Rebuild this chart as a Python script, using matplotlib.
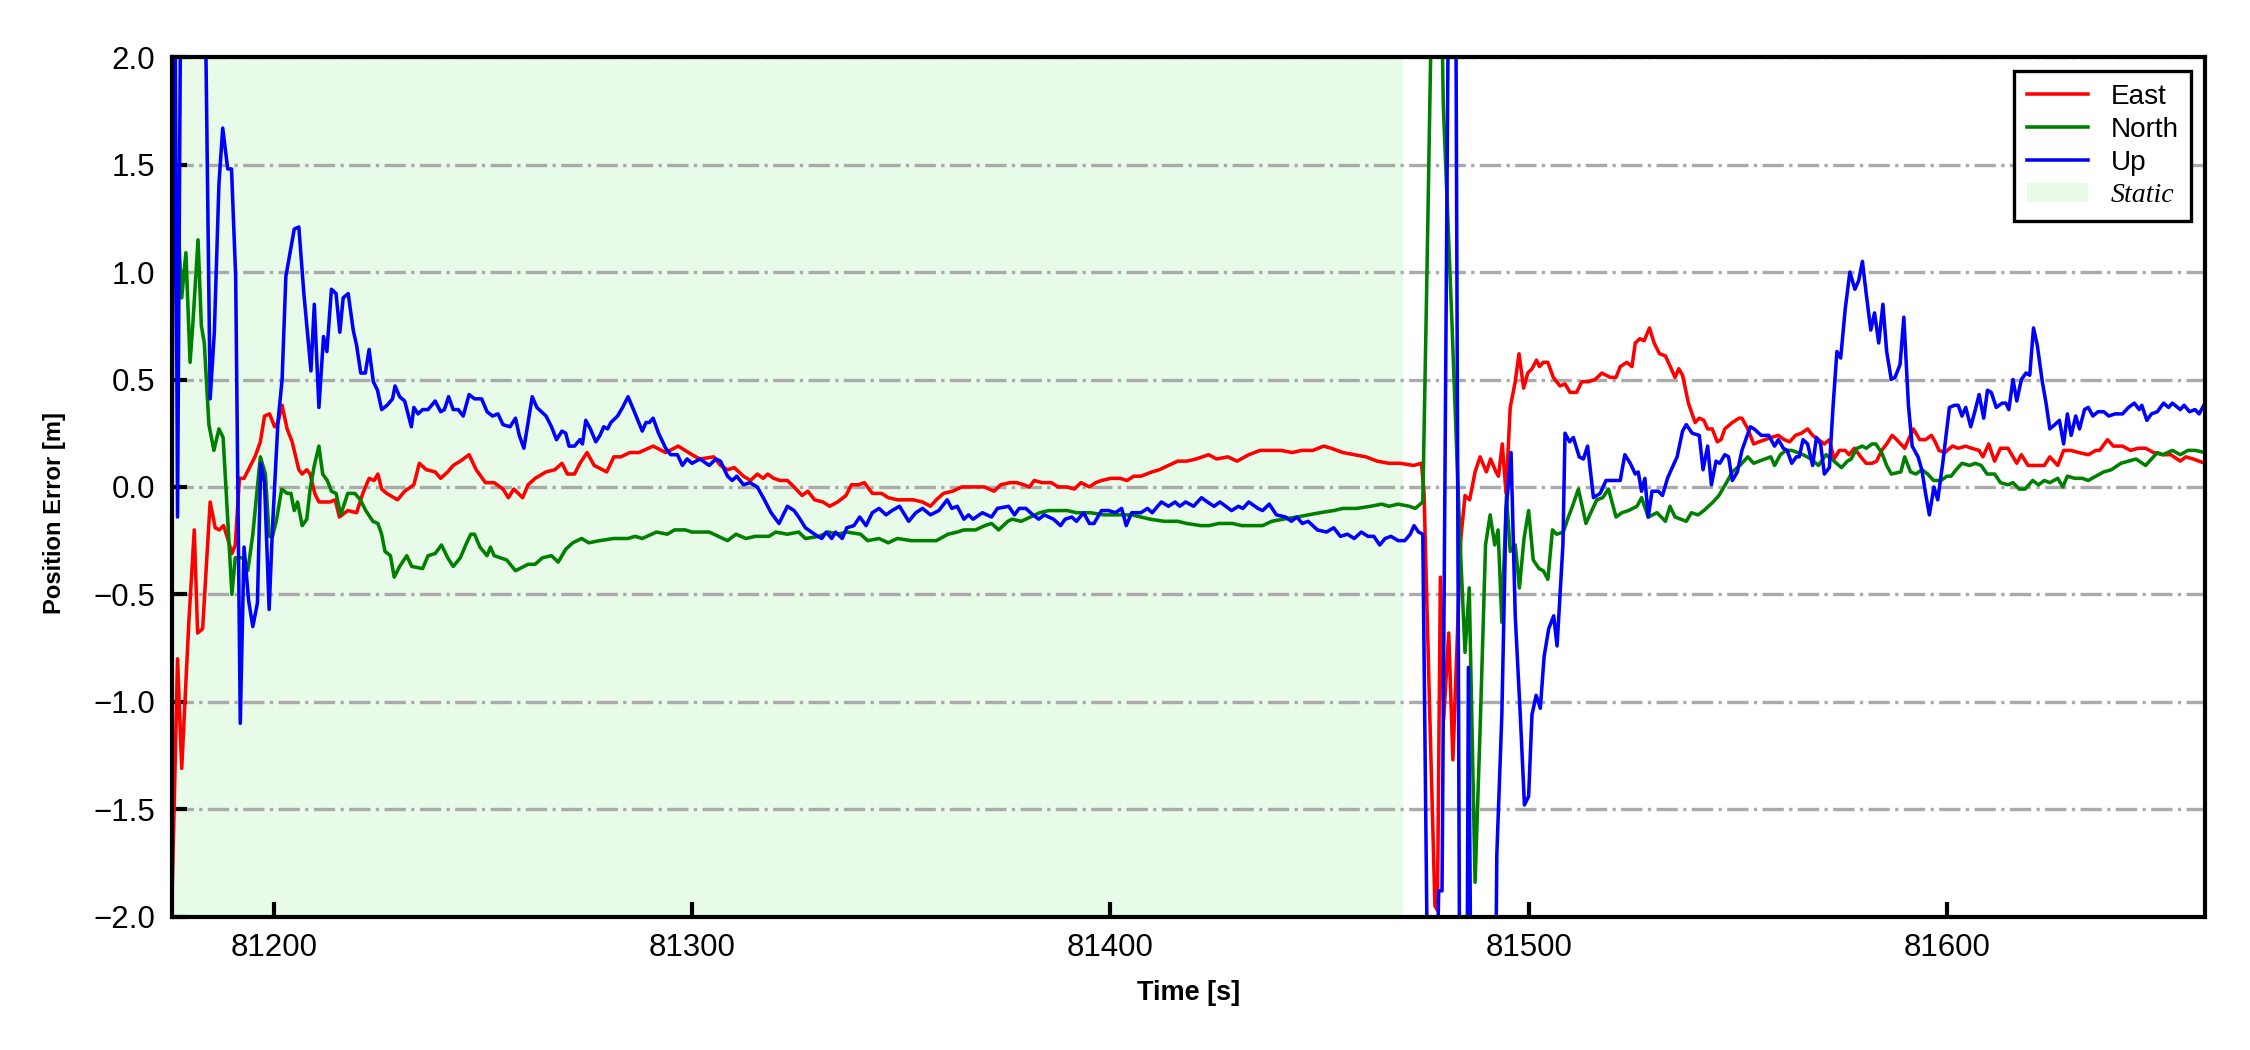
import matplotlib
matplotlib.use('Agg')
import matplotlib.pyplot as plt

# values (time [s], error [m])
east_time = [
    81175.6, 81177.0, 81178.0, 81179.7, 81181.0, 81181.8, 81183.0, 81184.8, 81186.0, 81187.0,
    81188.0, 81189.0, 81190.0, 81190.8, 81191.8, 81192.9, 81195.5, 81196.8, 81197.8, 81199.0,
    81200.2, 81201.0, 81202.0, 81203.2, 81204.4, 81206.0, 81206.8, 81207.9, 81208.7, 81209.8,
    81210.8, 81213.4, 81214.7, 81215.7, 81217.7, 81219.8, 81221.3, 81222.8, 81224.0, 81224.9,
    81225.8, 81227.0, 81229.6, 81231.3, 81233.5, 81234.8, 81236.5, 81238.6, 81239.9, 81241.6,
    81242.9, 81244.6, 81246.7, 81248.4, 81250.6, 81252.7, 81254.8, 81256.1, 81257.4, 81259.5,
    81260.8, 81262.5, 81265.1, 81267.2, 81268.9, 81270.2, 81271.9, 81273.2, 81274.9, 81276.6,
    81279.6, 81281.3, 81283.0, 81285.1, 81287.3, 81290.7, 81293.7, 81296.7, 81300.0, 81301.9,
    81305.2, 81306.8, 81308.5, 81310.1, 81312.3, 81314.0, 81315.6, 81317.0, 81318.1, 81319.5,
    81321.1, 81322.8, 81324.4, 81326.3, 81327.7, 81329.3, 81331.3, 81332.9, 81334.8, 81336.8,
    81338.1, 81339.8, 81341.2, 81343.1, 81345.3, 81346.9, 81349.1, 81352.9, 81355.1, 81357.0,
    81358.4, 81360.1, 81362.3, 81364.5, 81369.9, 81372.2, 81373.8, 81376.0, 81377.6, 81379.3,
    81380.7, 81381.8, 81383.7, 81385.9, 81387.5, 81389.7, 81391.4, 81393.0, 81395.0, 81396.5,
    81397.9, 81400.1, 81402.3, 81404.0, 81405.6, 81407.3, 81410.0, 81411.7, 81413.9, 81416.1,
    81418.3, 81420.5, 81423.5, 81425.4, 81428.1, 81430.3, 81433.1, 81435.8, 81438.0, 81440.8,
    81443.5, 81445.7, 81448.4, 81451.0, 81452.8, 81455.6, 81458.3, 81461.1, 81463.8, 81466.6,
    81469.3, 81472.5, 81474.4, 81475.0, 81476.1, 81477.6, 81478.2, 81478.9, 81479.7, 81480.9,
    81481.9, 81483.8, 81484.8, 81485.9, 81487.2, 81488.4, 81489.9, 81490.9, 81492.2, 81492.8,
    81493.7, 81494.6, 81495.6, 81496.8, 81497.7, 81498.8, 81499.8, 81500.8, 81501.9, 81502.6,
    81503.5, 81504.6, 81505.9, 81507.5, 81508.7, 81509.9, 81511.5, 81512.7, 81514.3, 81515.9,
    81517.5, 81519.5, 81520.9, 81521.9, 81523.5, 81524.7, 81525.5, 81526.6, 81527.6, 81528.9,
    81530.0, 81531.3, 81532.7, 81534.1, 81535.0, 81535.9, 81536.8, 81538.2, 81539.8, 81540.8,
    81541.9, 81542.8, 81543.9, 81545.1, 81546.0, 81546.9, 81548.7, 81550.3, 81551.0, 81552.4,
    81553.8, 81555.1, 81556.5, 81557.9, 81559.7, 81561.1, 81562.4, 81563.8, 81565.2, 81566.7,
    81567.9, 81569.3, 81570.7, 81571.9, 81573.0, 81574.3, 81575.7, 81576.6, 81577.9, 81579.4,
    81580.7, 81582.1, 81583.2, 81584.4, 81585.6, 81586.9, 81588.0, 81589.9, 81590.8, 81592.0,
    81593.5, 81594.9, 81596.3, 81597.2, 81598.1, 81599.5, 81601.3, 81602.7, 81604.5, 81605.9,
    81607.7, 81608.6, 81610.0, 81611.4, 81612.8, 81614.6, 81616.7, 81617.8, 81619.4, 81621.0,
    81623.3, 81624.6, 81626.5, 81627.9, 81629.7, 81631.5, 81633.8, 81635.6, 81636.5, 81638.4,
    81639.8, 81642.0, 81643.9, 81645.7, 81647.5, 81649.4, 81651.6, 81653.5, 81655.8, 81657.1,
    81658.9, 81661.7,
]
east = [
    -1.99, -0.80, -1.31, -0.63, -0.20, -0.68, -0.66, -0.07, -0.19, -0.20,
    -0.18, -0.24, -0.31, -0.27, 0.04, 0.04, 0.14, 0.21, 0.33, 0.34,
    0.28, 0.30, 0.38, 0.27, 0.21, 0.08, 0.06, 0.08, 0.06, -0.03,
    -0.07, -0.07, -0.06, -0.14, -0.11, -0.12, -0.03, 0.04, 0.03, 0.06,
    -0.01, -0.03, -0.06, -0.02, 0.01, 0.11, 0.08, 0.07, 0.04, 0.07,
    0.10, 0.12, 0.15, 0.08, 0.02, 0.02, -0.01, -0.05, -0.01, -0.05,
    0.01, 0.04, 0.07, 0.08, 0.11, 0.06, 0.06, 0.11, 0.16, 0.10,
    0.07, 0.14, 0.14, 0.16, 0.16, 0.19, 0.16, 0.19, 0.15, 0.13,
    0.14, 0.10, 0.08, 0.09, 0.05, 0.03, 0.06, 0.04, 0.06, 0.04,
    0.03, 0.03, 0.00, -0.04, -0.02, -0.06, -0.07, -0.09, -0.07, -0.04,
    0.01, 0.01, 0.02, -0.03, -0.03, -0.05, -0.06, -0.06, -0.07, -0.09,
    -0.06, -0.03, -0.02, 0.00, 0.00, -0.02, 0.01, 0.02, 0.02, 0.01,
    0.00, 0.03, 0.02, 0.02, 0.00, 0.00, -0.01, 0.02, 0.00, 0.02,
    0.03, 0.04, 0.04, 0.03, 0.05, 0.05, 0.07, 0.08, 0.10, 0.12,
    0.12, 0.13, 0.15, 0.13, 0.14, 0.12, 0.15, 0.17, 0.17, 0.17,
    0.16, 0.17, 0.17, 0.19, 0.18, 0.16, 0.15, 0.14, 0.12, 0.11,
    0.11, 0.10, 0.11, -0.03, -0.86, -1.95, -1.97, -0.42, -1.08, -0.68,
    -1.27, -0.24, -0.04, -0.06, 0.07, 0.14, 0.07, 0.13, 0.07, 0.05,
    0.20, -0.03, 0.37, 0.49, 0.62, 0.46, 0.53, 0.55, 0.59, 0.56,
    0.58, 0.58, 0.51, 0.47, 0.48, 0.44, 0.44, 0.49, 0.49, 0.50,
    0.53, 0.51, 0.51, 0.56, 0.58, 0.56, 0.67, 0.69, 0.68, 0.74,
    0.67, 0.62, 0.61, 0.55, 0.51, 0.55, 0.52, 0.39, 0.30, 0.32,
    0.31, 0.27, 0.27, 0.21, 0.22, 0.27, 0.30, 0.32, 0.32, 0.27,
    0.20, 0.21, 0.22, 0.23, 0.24, 0.22, 0.21, 0.24, 0.25, 0.27,
    0.24, 0.22, 0.20, 0.22, 0.13, 0.17, 0.17, 0.15, 0.18, 0.14,
    0.11, 0.11, 0.12, 0.17, 0.20, 0.24, 0.22, 0.18, 0.22, 0.27,
    0.22, 0.22, 0.24, 0.21, 0.17, 0.16, 0.19, 0.18, 0.19, 0.18,
    0.17, 0.14, 0.20, 0.12, 0.18, 0.18, 0.11, 0.15, 0.10, 0.10,
    0.10, 0.14, 0.10, 0.17, 0.17, 0.16, 0.15, 0.17, 0.17, 0.22,
    0.19, 0.19, 0.17, 0.18, 0.18, 0.16, 0.15, 0.15, 0.12, 0.14,
    0.13, 0.11,
]

north_time = [
    81175.6, 81176.6, 81178.0, 81179.0, 81180.0, 81180.7, 81181.9, 81182.7, 81183.4, 81184.5,
    81185.7, 81186.9, 81187.9, 81190.0, 81190.8, 81192.9, 81193.8, 81195.0, 81196.8, 81198.0,
    81198.9, 81199.7, 81200.6, 81201.9, 81203.2, 81204.1, 81204.9, 81205.7, 81206.8, 81207.9,
    81208.7, 81209.7, 81210.8, 81211.7, 81212.8, 81213.8, 81214.9, 81216.0, 81217.7, 81219.4,
    81220.7, 81222.0, 81223.7, 81224.9, 81225.8, 81226.6, 81227.9, 81228.8, 81230.1, 81231.8,
    81233.0, 81235.6, 81236.9, 81238.6, 81240.1, 81241.6, 81242.9, 81244.6, 81245.9, 81247.1,
    81248.0, 81249.3, 81251.0, 81251.8, 81252.7, 81255.7, 81257.8, 81260.8, 81262.5, 81264.2,
    81266.4, 81268.0, 81269.8, 81271.5, 81273.6, 81275.3, 81277.9, 81281.3, 81284.7, 81286.4,
    81288.1, 81291.5, 81294.1, 81295.8, 81298.4, 81300.0, 81301.9, 81304.1, 81306.3, 81308.5,
    81310.5, 81312.9, 81315.1, 81318.4, 81320.0, 81322.8, 81325.5, 81327.1, 81330.4, 81332.6,
    81334.8, 81337.0, 81340.3, 81342.0, 81344.7, 81346.9, 81349.1, 81352.4, 81355.7, 81358.4,
    81361.2, 81363.4, 81365.0, 81367.8, 81370.0, 81371.6, 81373.3, 81375.5, 81376.5, 81378.7,
    81380.9, 81383.1, 81385.3, 81387.5, 81389.7, 81391.9, 81395.2, 81398.5, 81401.8, 81405.1,
    81407.3, 81409.5, 81412.8, 81416.1, 81418.3, 81421.6, 81423.7, 81425.9, 81429.2, 81431.4,
    81433.6, 81436.4, 81438.6, 81441.3, 81444.6, 81447.4, 81450.1, 81453.4, 81455.6, 81458.9,
    81462.2, 81464.9, 81466.6, 81468.8, 81471.5, 81472.9, 81474.7, 81475.7, 81476.6, 81477.5,
    81478.6, 81479.6, 81481.6, 81483.6, 81484.8, 81485.8, 81487.2, 81488.4, 81489.7, 81490.8,
    81491.9, 81492.7, 81493.6, 81494.7, 81495.6, 81496.8, 81497.8, 81498.9, 81500.0, 81501.1,
    81502.5, 81503.5, 81504.6, 81505.7, 81506.7, 81508.3, 81509.5, 81510.3, 81511.9, 81513.7,
    81515.1, 81516.3, 81517.7, 81519.1, 81520.9, 81522.3, 81523.9, 81525.9, 81527.0, 81528.6,
    81530.7, 81532.7, 81533.8, 81535.0, 81537.7, 81538.9, 81540.5, 81541.9, 81544.1, 81545.5,
    81547.3, 81548.7, 81550.5, 81552.4, 81553.8, 81555.1, 81556.5, 81557.9, 81558.8, 81560.2,
    81561.5, 81562.9, 81564.3, 81565.6, 81567.5, 81569.3, 81571.1, 81573.0, 81574.8, 81576.2,
    81577.1, 81578.5, 81579.8, 81580.7, 81582.1, 81583.0, 81584.4, 81585.6, 81586.7, 81589.0,
    81589.9, 81591.3, 81592.6, 81594.0, 81595.4, 81596.8, 81598.6, 81600.0, 81601.0, 81602.2,
    81603.6, 81605.4, 81606.8, 81608.2, 81609.6, 81611.4, 81612.8, 81614.6, 81615.8, 81617.3,
    81618.7, 81620.5, 81621.9, 81623.3, 81624.6, 81626.5, 81627.7, 81628.8, 81630.6, 81632.4,
    81633.8, 81635.6, 81637.5, 81639.3, 81641.6, 81643.4, 81645.2, 81647.5, 81650.3, 81651.6,
    81653.9, 81655.8, 81657.6, 81659.4, 81661.7,
]
north = [
    0.88, 1.44, 0.88, 1.09, 0.58, 0.77, 1.15, 0.75, 0.67, 0.29,
    0.17, 0.27, 0.23, -0.50, -0.33, -0.33, -0.39, -0.22, 0.14, 0.06,
    -0.23, -0.23, -0.16, -0.01, -0.03, -0.03, -0.11, -0.07, -0.18, -0.15,
    -0.01, 0.10, 0.19, 0.06, 0.03, -0.02, -0.03, -0.13, -0.03, -0.03,
    -0.06, -0.11, -0.16, -0.17, -0.22, -0.30, -0.32, -0.42, -0.37, -0.32,
    -0.37, -0.38, -0.32, -0.31, -0.27, -0.33, -0.37, -0.33, -0.27, -0.22,
    -0.22, -0.28, -0.32, -0.28, -0.32, -0.34, -0.39, -0.36, -0.36, -0.33,
    -0.32, -0.35, -0.29, -0.26, -0.24, -0.26, -0.25, -0.24, -0.24, -0.23,
    -0.24, -0.21, -0.22, -0.20, -0.20, -0.21, -0.21, -0.21, -0.23, -0.25,
    -0.22, -0.24, -0.23, -0.23, -0.21, -0.22, -0.21, -0.24, -0.23, -0.21,
    -0.22, -0.21, -0.22, -0.25, -0.24, -0.26, -0.24, -0.25, -0.25, -0.25,
    -0.22, -0.21, -0.20, -0.20, -0.18, -0.17, -0.20, -0.16, -0.15, -0.16,
    -0.14, -0.12, -0.11, -0.11, -0.11, -0.12, -0.12, -0.13, -0.13, -0.13,
    -0.14, -0.15, -0.16, -0.16, -0.17, -0.18, -0.18, -0.17, -0.17, -0.18,
    -0.18, -0.18, -0.16, -0.15, -0.14, -0.13, -0.12, -0.11, -0.10, -0.10,
    -0.09, -0.08, -0.09, -0.08, -0.09, -0.10, -0.07, 1.00, 2.05, 3.00,
    3.00, 1.78, 0.80, -0.25, -0.77, -0.47, -1.84, -1.13, -0.27, -0.13,
    -0.27, -0.20, -0.63, -0.04, -0.30, -0.27, -0.47, -0.24, -0.11, -0.34,
    -0.38, -0.39, -0.43, -0.20, -0.22, -0.21, -0.14, -0.10, -0.01, -0.17,
    -0.11, -0.06, -0.05, -0.01, -0.14, -0.12, -0.11, -0.09, -0.05, -0.14,
    -0.12, -0.16, -0.09, -0.14, -0.16, -0.12, -0.13, -0.11, -0.07, -0.04,
    0.02, 0.07, 0.10, 0.14, 0.11, 0.12, 0.13, 0.14, 0.10, 0.15,
    0.17, 0.17, 0.16, 0.15, 0.13, 0.10, 0.15, 0.12, 0.09, 0.12,
    0.13, 0.18, 0.19, 0.18, 0.20, 0.20, 0.16, 0.10, 0.06, 0.07,
    0.14, 0.07, 0.06, 0.08, 0.06, 0.03, 0.03, 0.05, 0.05, 0.08,
    0.11, 0.10, 0.11, 0.10, 0.06, 0.06, 0.02, 0.01, 0.02, -0.01,
    -0.01, 0.03, 0.01, 0.03, 0.02, 0.04, 0.00, 0.05, 0.04, 0.04,
    0.03, 0.05, 0.07, 0.08, 0.11, 0.12, 0.13, 0.10, 0.16, 0.15,
    0.17, 0.15, 0.17, 0.17, 0.16,
]

up_time = [
    81175.6, 81176.3, 81177.0, 81177.9, 81183.3, 81184.8, 81185.8, 81186.9, 81187.8, 81189.0,
    81189.9, 81190.9, 81192.0, 81192.9, 81194.0, 81195.0, 81196.1, 81196.9, 81197.8, 81198.9,
    81199.7, 81201.0, 81202.0, 81202.9, 81204.9, 81206.0, 81207.2, 81208.9, 81209.7, 81210.8,
    81211.9, 81212.7, 81213.8, 81214.9, 81215.8, 81216.6, 81217.8, 81219.0, 81219.8, 81220.8,
    81221.9, 81222.8, 81223.8, 81224.8, 81225.8, 81227.1, 81228.4, 81229.0, 81230.1, 81231.3,
    81232.9, 81233.5, 81234.5, 81235.6, 81236.9, 81238.6, 81239.9, 81240.8, 81241.8, 81242.9,
    81244.1, 81245.3, 81246.7, 81248.0, 81249.7, 81251.0, 81252.3, 81253.6, 81254.8, 81256.5,
    81257.8, 81258.7, 81259.8, 81261.8, 81262.9, 81265.1, 81266.4, 81267.6, 81268.9, 81269.8,
    81270.6, 81271.9, 81273.2, 81273.8, 81274.6, 81275.7, 81277.0, 81278.0, 81278.9, 81279.8,
    81280.6, 81282.2, 81283.4, 81284.7, 81286.0, 81288.1, 81289.0, 81289.8, 81290.7, 81292.0,
    81293.7, 81294.9, 81296.5, 81297.7, 81298.8, 81300.0, 81301.9, 81304.1, 81305.7, 81306.8,
    81308.5, 81309.6, 81310.7, 81312.3, 81313.8, 81315.6, 81317.3, 81318.9, 81320.8, 81322.8,
    81324.4, 81325.5, 81327.1, 81329.3, 81331.0, 81332.1, 81333.4, 81334.3, 81335.9, 81337.0,
    81338.7, 81340.1, 81341.6, 81343.1, 81344.7, 81346.4, 81347.8, 81349.6, 81351.8, 81353.5,
    81355.1, 81357.0, 81359.0, 81361.0, 81362.1, 81363.4, 81365.0, 81366.1, 81367.2, 81369.4,
    81371.6, 81373.0, 81375.7, 81377.1, 81378.2, 81379.8, 81381.5, 81382.9, 81384.2, 81386.4,
    81388.1, 81389.2, 81390.8, 81391.9, 81393.6, 81395.0, 81396.1, 81397.9, 81399.6, 81401.2,
    81402.7, 81403.8, 81405.1, 81407.3, 81408.9, 81410.0, 81412.2, 81413.9, 81415.5, 81416.6,
    81418.0, 81419.9, 81421.8, 81423.2, 81424.8, 81426.2, 81429.0, 81430.6, 81431.7, 81433.1,
    81435.3, 81436.4, 81438.0, 81439.7, 81441.9, 81443.3, 81444.6, 81445.9, 81447.3, 81448.4,
    81449.5, 81451.7, 81453.4, 81455.0, 81456.7, 81458.3, 81460.0, 81461.6, 81463.0, 81464.4,
    81465.7, 81467.1, 81468.8, 81470.4, 81471.7, 81472.6, 81473.7, 81474.7, 81476.1, 81477.6,
    81478.5, 81479.3, 81481.0, 81482.5, 81483.6, 81485.2, 81485.6, 81486.4, 81491.9, 81492.4,
    81493.6, 81494.6, 81495.8, 81496.8, 81498.0, 81499.0, 81500.0, 81500.8, 81501.8, 81502.8,
    81503.7, 81504.8, 81506.0, 81506.8, 81507.6, 81508.2, 81508.7, 81509.8, 81510.7, 81512.1,
    81513.1, 81514.1, 81515.5, 81517.1, 81518.5, 81519.9, 81521.9, 81523.0, 81524.3, 81525.5,
    81526.2, 81527.0, 81527.8, 81528.6, 81529.5, 81531.0, 81532.0, 81533.2, 81534.1, 81535.5,
    81536.8, 81537.7, 81539.1, 81540.8, 81541.7, 81542.8, 81543.7, 81544.8, 81545.7, 81546.9,
    81547.8, 81548.7, 81549.9, 81551.0, 81551.9, 81553.0, 81553.9, 81555.6, 81557.4, 81558.8,
    81559.7, 81560.9, 81561.8, 81562.9, 81564.0, 81564.7, 81565.6, 81566.7, 81567.9, 81568.8,
    81569.8, 81570.7, 81571.9, 81572.8, 81573.7, 81574.6, 81575.7, 81576.8, 81578.0, 81578.9,
    81579.8, 81580.7, 81581.8, 81582.7, 81583.7, 81584.7, 81585.6, 81586.7, 81587.6, 81588.8,
    81589.7, 81590.8, 81591.7, 81593.1, 81594.0, 81594.9, 81595.8, 81596.9, 81597.8, 81599.0,
    81600.6, 81601.8, 81602.7, 81603.6, 81604.5, 81605.7, 81606.8, 81607.7, 81608.8, 81609.7,
    81610.6, 81611.8, 81613.2, 81614.1, 81614.8, 81615.8, 81616.7, 81617.8, 81618.9, 81619.8,
    81620.7, 81621.6, 81622.8, 81623.7, 81624.6, 81625.8, 81626.9, 81627.9, 81628.8, 81629.7,
    81630.8, 81631.7, 81632.9, 81633.8, 81634.9, 81636.1, 81637.5, 81638.7, 81640.2, 81642.0,
    81643.4, 81644.8, 81646.0, 81646.6, 81647.8, 81648.9, 81650.3, 81651.8, 81653.0, 81653.9,
    81655.8, 81656.7, 81658.0, 81659.3, 81660.3, 81661.7,
]
up = [
    -0.35, 2.80, -0.14, 2.80, 2.80, 0.41, 0.72, 1.41, 1.67, 1.48,
    1.48, 0.98, -1.10, -0.28, -0.53, -0.65, -0.54, 0.11, 0.02, -0.57,
    -0.19, 0.30, 0.50, 0.98, 1.20, 1.21, 0.90, 0.54, 0.85, 0.37,
    0.70, 0.63, 0.92, 0.90, 0.72, 0.88, 0.90, 0.73, 0.66, 0.53,
    0.53, 0.64, 0.49, 0.45, 0.36, 0.38, 0.41, 0.47, 0.42, 0.40,
    0.28, 0.37, 0.34, 0.36, 0.36, 0.40, 0.35, 0.36, 0.42, 0.36,
    0.36, 0.33, 0.43, 0.41, 0.41, 0.35, 0.33, 0.34, 0.29, 0.28,
    0.32, 0.24, 0.18, 0.42, 0.37, 0.33, 0.28, 0.22, 0.26, 0.25,
    0.19, 0.19, 0.22, 0.20, 0.31, 0.27, 0.21, 0.24, 0.28, 0.27,
    0.30, 0.33, 0.37, 0.42, 0.36, 0.26, 0.30, 0.30, 0.32, 0.25,
    0.18, 0.15, 0.15, 0.10, 0.13, 0.11, 0.13, 0.10, 0.13, 0.12,
    0.05, 0.03, 0.05, 0.01, 0.02, 0.00, -0.06, -0.12, -0.17, -0.09,
    -0.11, -0.14, -0.19, -0.22, -0.24, -0.21, -0.24, -0.21, -0.24, -0.19,
    -0.18, -0.14, -0.18, -0.12, -0.10, -0.13, -0.11, -0.09, -0.16, -0.12,
    -0.10, -0.13, -0.11, -0.06, -0.10, -0.09, -0.15, -0.13, -0.15, -0.12,
    -0.14, -0.10, -0.09, -0.13, -0.10, -0.10, -0.13, -0.15, -0.13, -0.15,
    -0.18, -0.15, -0.14, -0.16, -0.12, -0.17, -0.17, -0.11, -0.11, -0.12,
    -0.10, -0.18, -0.12, -0.12, -0.10, -0.12, -0.07, -0.09, -0.07, -0.09,
    -0.07, -0.09, -0.05, -0.07, -0.09, -0.07, -0.11, -0.09, -0.10, -0.07,
    -0.10, -0.11, -0.08, -0.13, -0.14, -0.16, -0.14, -0.17, -0.16, -0.18,
    -0.20, -0.21, -0.19, -0.23, -0.22, -0.24, -0.21, -0.23, -0.23, -0.27,
    -0.24, -0.23, -0.25, -0.25, -0.22, -0.18, -0.21, -0.22, -2.80, -2.80,
    -1.88, -1.88, 2.80, 2.80, -2.80, -2.80, -0.84, -2.80, -2.80, -1.71,
    -1.06, -0.11, 0.16, -0.60, -1.06, -1.48, -1.44, -1.06, -0.97, -1.03,
    -0.79, -0.66, -0.60, -0.74, -0.47, -0.27, 0.25, 0.21, 0.23, 0.14,
    0.13, 0.19, -0.05, -0.03, 0.03, 0.03, 0.03, 0.15, 0.11, 0.06,
    0.07, -0.02, 0.04, -0.14, -0.02, -0.02, -0.04, 0.04, 0.08, 0.14,
    0.26, 0.29, 0.25, 0.24, 0.08, 0.19, 0.01, 0.12, 0.11, 0.15,
    0.14, 0.03, 0.07, 0.17, 0.22, 0.28, 0.27, 0.24, 0.24, 0.19,
    0.22, 0.18, 0.17, 0.11, 0.14, 0.14, 0.22, 0.20, 0.10, 0.23,
    0.20, 0.06, 0.09, 0.38, 0.63, 0.60, 0.83, 1.00, 0.92, 0.96,
    1.05, 0.90, 0.73, 0.81, 0.67, 0.85, 0.63, 0.50, 0.51, 0.57,
    0.79, 0.38, 0.19, 0.14, 0.08, -0.03, -0.13, 0.00, -0.06, 0.11,
    0.37, 0.38, 0.38, 0.33, 0.37, 0.28, 0.36, 0.43, 0.32, 0.45,
    0.44, 0.37, 0.39, 0.39, 0.36, 0.50, 0.40, 0.50, 0.53, 0.52,
    0.74, 0.66, 0.49, 0.39, 0.27, 0.29, 0.31, 0.20, 0.34, 0.24,
    0.33, 0.27, 0.36, 0.37, 0.33, 0.35, 0.35, 0.33, 0.34, 0.34,
    0.37, 0.39, 0.36, 0.38, 0.31, 0.34, 0.35, 0.39, 0.37, 0.39,
    0.36, 0.38, 0.35, 0.36, 0.34, 0.39,
]

static_start = 81175.6
static_end = 81470.0


def main():
    plt.rcParams['font.family'] = ['Liberation Sans', 'DejaVu Sans']
    fig = plt.figure(figsize=(7.5, 3.5), dpi=300)
    ax = fig.add_axes([0.0763, 0.127, 0.9037, 0.8185])

    lw = 0.85
    ax.plot(east_time, east, color='red', lw=lw, label='East')
    ax.plot(north_time, north, color='green', lw=lw, label='North')
    ax.plot(up_time, up, color='blue', lw=lw, label='Up')
    ax.axvspan(static_start, static_end, color='lightgreen', alpha=0.2, lw=0,
               zorder=0, label='Static')

    ax.set_xlim(east_time[0], east_time[-1])
    ax.set_ylim(-2.0, 2.0)
    ax.set_xticks([81200, 81300, 81400, 81500, 81600])
    ax.set_yticks([-2.0, -1.5, -1.0, -0.5, 0.0, 0.5, 1.0, 1.5, 2.0])
    ax.yaxis.grid(True, color='#aaaaaa', linestyle='-.', linewidth=0.8)
    ax.set_axisbelow(True)
    ax.tick_params(direction='in', length=3.5, width=1.0, labelsize=7.5, pad=4)
    for sp in ax.spines.values():
        sp.set_linewidth(1.0)

    ax.set_xlabel('Time [s]', fontsize=6.5, fontweight='bold', labelpad=4)
    ax.set_ylabel('Position Error [m]', fontsize=5.7, fontweight='bold')
    ax.yaxis.set_label_coords(-0.052, 0.47)

    leg = ax.legend(loc='upper right', fontsize=6.7, fancybox=False, framealpha=1,
                    edgecolor='black', labelspacing=0.25, handlelength=2.2,
                    handletextpad=0.8, borderpad=0.45)
    leg.get_frame().set_linewidth(0.8)
    static_txt = leg.get_texts()[3]
    static_txt.set_fontfamily(['Liberation Serif', 'DejaVu Serif'])
    static_txt.set_fontstyle('italic')

    plt.savefig('out.png', dpi=300)


if __name__ == "__main__":
    main()
